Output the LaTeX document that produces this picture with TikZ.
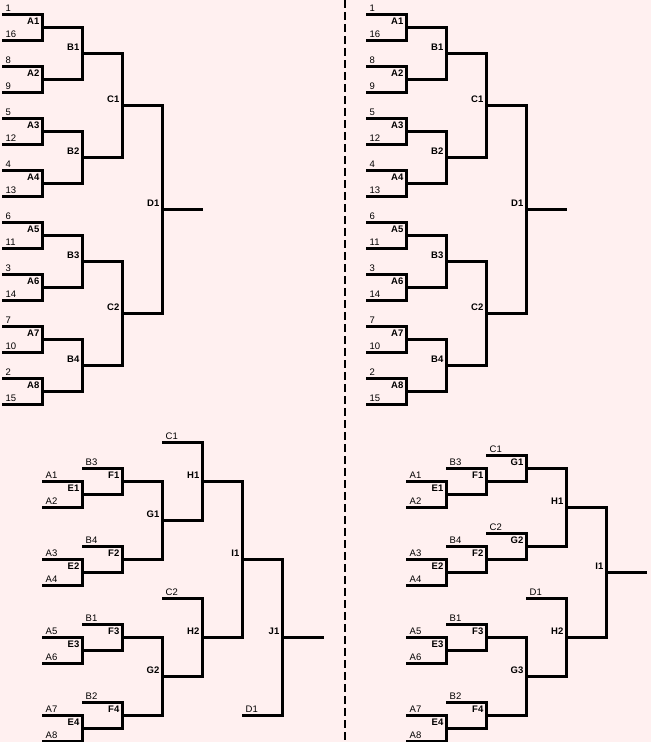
\documentclass[tikz,border=0pt]{standalone}
\usepackage{fontspec}
\setmainfont{Liberation Sans}
\definecolor{bgpink}{RGB}{255,240,240}
\begin{document}
\begin{tikzpicture}[x=1pt, y=-1pt,
  every node/.style={font=\fontsize{9.5}{11}\selectfont, inner sep=0pt},
  wire/.style={line width=3pt},
  seed/.style={anchor=base west, xshift=3.5pt, yshift=3.5pt},
  win/.style={anchor=base east, xshift=-3pt, yshift=3pt, font=\fontsize{9.5}{11}\selectfont\bfseries},
  divider/.style={line width=2pt, dash pattern=on 8pt off 4pt}]
\useasboundingbox (0,0) rectangle (651,742);
\fill[bgpink] (0,0) rectangle (651,742);
\coordinate (divtop) at (345,0);
\coordinate (divbot) at (345,742);
\draw[divider] (divtop) -- (divbot);
% seeded brackets, left and right
\foreach \ox/\p in {0/tl,364/tr}{
  \foreach \s [count=\k from 0] in {1,16,8,9,5,12,4,13,6,11,3,14,7,10,2,15}{
    \coordinate (\p s\k) at ({\ox+2},{14.5+26*\k});
    \node[seed] (\p s\k-t) at (\p s\k) {\s};
  }
  \foreach \m/\x/\y/\a/\b in {A1/42.5/27.5/s0/s1, A2/42.5/79.5/s2/s3, A3/42.5/131.5/s4/s5,
      A4/42.5/183.5/s6/s7, A5/42.5/235.5/s8/s9, A6/42.5/287.5/s10/s11, A7/42.5/339.5/s12/s13,
      A8/42.5/391.5/s14/s15, B1/82.5/53.5/A1/A2, B2/82.5/157.5/A3/A4, B3/82.5/261.5/A5/A6,
      B4/82.5/365.5/A7/A8, C1/122.5/105.5/B1/B2, C2/122.5/313.5/B3/B4, D1/162.5/209.5/C1/C2}{
    \coordinate (\p\m) at ({\ox+\x},\y);
    \node[win] (\p\m-t) at (\p\m) {\m};
    \draw[wire] (\p\a) -| (\p\m) |- (\p\b);
  }
  \coordinate (\p out) at ({\ox+203},209.5);
  \draw[wire] (\p D1) -- (\p out);
}
% second chance bracket, left
\foreach \n/\x/\y in {A1/42/481.5, A2/42/507.5, A3/42/559.5, A4/42/585.5, A5/42/637.5,
    A6/42/663.5, A7/42/715.5, A8/42/741.5, B3/82/468.5, B4/82/546.5, B1/82/624.5,
    B2/82/702.5, C1/162/442.5, C2/162/598.5, D1/242/715.5}{
  \coordinate (bl\n) at (\x,\y);
  \node[seed] (bl\n-t) at (bl\n) {\n};
}
\foreach \m/\x/\y/\a/\b in {E1/82.5/494.5/A1/A2, E2/82.5/572.5/A3/A4, E3/82.5/650.5/A5/A6,
    E4/82.5/728.5/A7/A8, F1/122.5/481.5/B3/E1, F2/122.5/559.5/B4/E2, F3/122.5/637.5/B1/E3,
    F4/122.5/715.5/B2/E4, G1/162.5/520.5/F1/F2, G2/162.5/676.5/F3/F4, H1/202.5/481.5/C1/G1,
    H2/202.5/637.5/C2/G2, I1/242.5/559.5/H1/H2, J1/282.5/637.5/I1/D1}{
  \coordinate (bl\m) at (\x,\y);
  \node[win] (bl\m-t) at (bl\m) {\m};
  \draw[wire] (bl\a) -| (bl\m) |- (bl\b);
}
\coordinate (blout) at (324,637.5);
\draw[wire] (blJ1) -- (blout);
% second chance bracket, right
\foreach \n/\x/\y in {A1/406/481.5, A2/406/507.5, A3/406/559.5, A4/406/585.5, A5/406/637.5,
    A6/406/663.5, A7/406/715.5, A8/406/741.5, B3/446/468.5, B4/446/546.5, B1/446/624.5,
    B2/446/702.5, C1/486/455.5, C2/486/533.5, D1/526/598.5}{
  \coordinate (br\n) at (\x,\y);
  \node[seed] (br\n-t) at (br\n) {\n};
}
\foreach \m/\x/\y/\a/\b in {E1/446.5/494.5/A1/A2, E2/446.5/572.5/A3/A4, E3/446.5/650.5/A5/A6,
    E4/446.5/728.5/A7/A8, F1/486.5/481.5/B3/E1, F2/486.5/559.5/B4/E2, F3/486.5/637.5/B1/E3,
    F4/486.5/715.5/B2/E4, G1/526.5/468.5/C1/F1, G2/526.5/546.5/C2/F2, G3/526.5/676.5/F3/F4,
    H1/566.5/507.5/G1/G2, H2/566.5/637.5/D1/G3, I1/606.5/572.5/H1/H2}{
  \coordinate (br\m) at (\x,\y);
  \node[win] (br\m-t) at (br\m) {\m};
  \draw[wire] (br\a) -| (br\m) |- (br\b);
}
\coordinate (brout) at (647,572.5);
\draw[wire] (brI1) -- (brout);
\end{tikzpicture}
\end{document}
